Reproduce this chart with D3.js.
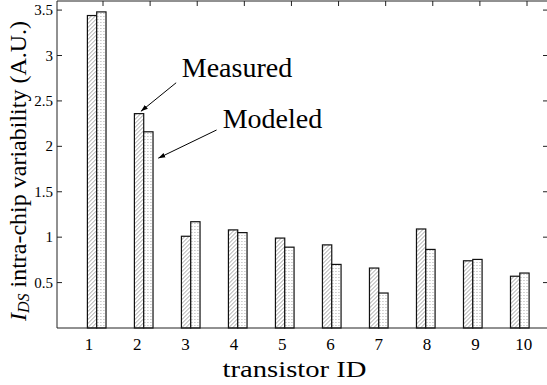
<!DOCTYPE html>
<html>
<head>
<meta charset="utf-8">
<script src="https://cdn.jsdelivr.net/npm/d3@7"></script>
<style>
  body { margin: 0; background: #fff; }
  text { font-family: "Liberation Serif", "Times New Roman", serif; fill: #000; }
</style>
</head>
<body>
<div id="container"></div>
<script>
// chart data
const ids = [1, 2, 3, 4, 5, 6, 7, 8, 9, 10];
const measured = [3.44, 2.36, 1.01, 1.08, 0.99, 0.915, 0.66, 1.09, 0.74, 0.57];
const modeled = [3.48, 2.16, 1.17, 1.05, 0.89, 0.70, 0.385, 0.865, 0.755, 0.605];
const yTicks = [0.5, 1, 1.5, 2, 2.5, 3, 3.5];
const seriesNames = ["Measured", "Modeled"];
// annotations in data units: text anchor and arrow (from -> to)
const notes = [
    {label: "Measured", tx: 2.81, ty: 2.765, x1: 2.69, y1: 2.70, x2: 1.94, y2: 2.385},
    {label: "Modeled", tx: 3.68, ty: 2.205, x1: 3.55, y1: 2.18, x2: 2.31, y2: 1.87}
];

const w = 547, h = 385;
const pLeft = 57, pTop = 1, pRight = 548, pBottom = 328;

const svg = d3.select("#container").append("svg")
    .attr("width", w).attr("height", h);

const defs = svg.append("defs");
const hatch = defs.append("pattern")
    .attr("id", "hatch").attr("patternUnits", "userSpaceOnUse")
    .attr("width", 4).attr("height", 4);
hatch.append("rect").attr("width", 4).attr("height", 4).attr("fill", "#fff");
hatch.append("path")
    .attr("d", "M-1,1 l2,-2 M0,4 l4,-4 M3,5 l2,-2")
    .attr("stroke", "#888").attr("stroke-width", 0.8);

const dots = defs.append("pattern")
    .attr("id", "dots").attr("patternUnits", "userSpaceOnUse")
    .attr("width", 3).attr("height", 3);
dots.append("rect").attr("width", 3).attr("height", 3).attr("fill", "#fff");
dots.append("rect").attr("x", 1).attr("y", 1).attr("width", 1).attr("height", 1).attr("fill", "#aaa");

const yScale = d3.scaleLinear().domain([0, 3.6]).range([pBottom, pTop]);

const xBand = d3.scaleBand()
    .domain(ids)
    .range([73.2, 543.3])
    .paddingInner(0.604)
    .paddingOuter(0.302);

const xSub = d3.scaleBand()
    .domain(seriesNames)
    .range([0, xBand.bandwidth()]);

// centre of each group, used for annotations
const xc = d3.scaleLinear()
    .domain([1, 10])
    .range([xBand(1) + xBand.bandwidth() / 2, xBand(10) + xBand.bandwidth() / 2]);

// tick label and top tick scales (offset from bars in the original)
const xLabel = d3.scaleLinear().domain([1, 10]).range([89, 523.7]);
const xTop = d3.scaleLinear().domain([1, 10]).range([103, 527]);

const rows = ids.map((id, i) => ({id: id, values: [measured[i], modeled[i]]}));

const groups = svg.append("g").selectAll("g")
    .data(rows)
    .enter()
    .append("g")
    .attr("transform", (d) => "translate(" + xBand(d.id) + ",0)");

groups.selectAll("rect")
    .data((d) => d.values.map((v, j) => ({name: seriesNames[j], value: v})))
    .enter()
    .append("rect")
    .attr("x", (d) => xSub(d.name))
    .attr("y", (d) => yScale(d.value))
    .attr("width", xSub.bandwidth())
    .attr("height", (d) => yScale(0) - yScale(d.value))
    .attr("fill", (d) => d.name == "Measured" ? "url(#hatch)" : "url(#dots)")
    .attr("stroke", "#111")
    .attr("stroke-width", 1.2);

// frame
svg.append("path")
    .attr("d", "M" + pLeft + "," + pBottom + "V" + pTop + "H" + pRight + "V" + pBottom + "Z")
    .attr("fill", "none").attr("stroke", "#222").attr("stroke-width", 1);

// y ticks (left, inward) + labels
const yAxis = svg.append("g");
yAxis.selectAll("line.l")
    .data(yTicks).enter().append("line")
    .attr("class", "l")
    .attr("x1", pLeft).attr("x2", pLeft + 5)
    .attr("y1", (d) => yScale(d)).attr("y2", (d) => yScale(d))
    .attr("stroke", "#222");
yAxis.selectAll("line.r")
    .data(yTicks).enter().append("line")
    .attr("class", "r")
    .attr("x1", pRight - 5).attr("x2", pRight)
    .attr("y1", (d) => yScale(d)).attr("y2", (d) => yScale(d))
    .attr("stroke", "#222");
yAxis.selectAll("text")
    .data(yTicks).enter().append("text")
    .attr("x", pLeft - 4)
    .attr("y", (d) => yScale(d) + 5)
    .attr("text-anchor", "end")
    .style("font-size", "15px")
    .text((d) => d);

// top ticks
svg.append("g").selectAll("line")
    .data(ids).enter().append("line")
    .attr("x1", (d) => xTop(d)).attr("x2", (d) => xTop(d))
    .attr("y1", pTop).attr("y2", pTop + 5)
    .attr("stroke", "#222");

// x tick labels
svg.append("g").selectAll("text")
    .data(ids).enter().append("text")
    .attr("x", (d) => xLabel(d))
    .attr("y", 350)
    .attr("text-anchor", "middle")
    .style("font-size", "17px")
    .text((d) => d);

// axis titles
svg.append("text")
    .attr("x", 222.5).attr("y", 376.5)
    .attr("textLength", 144)
    .attr("lengthAdjust", "spacingAndGlyphs")
    .style("font-size", "24px")
    .text("transistor ID");

const yTitle = svg.append("text")
    .attr("transform", "translate(26," + 171 + ") rotate(-90)")
    .attr("text-anchor", "middle")
    .style("font-size", "24px");
yTitle.append("tspan").style("font-style", "italic").text("I");
yTitle.append("tspan").style("font-style", "italic").style("font-size", "16px")
    .attr("dy", 3).text("DS");
yTitle.append("tspan").attr("dy", -3).text(" intra-chip variability (A.U.)");

// annotations
defs.append("marker")
    .attr("id", "arrow").attr("viewBox", "0 0 10 10")
    .attr("refX", 10).attr("refY", 5)
    .attr("markerWidth", 7).attr("markerHeight", 7)
    .attr("markerUnits", "userSpaceOnUse")
    .attr("orient", "auto")
    .append("path").attr("d", "M0,1.5 L10,5 L0,8.5 Z").attr("fill", "#000");

const ann = svg.append("g").selectAll("g")
    .data(notes).enter().append("g");
ann.append("line")
    .attr("x1", (d) => xc(d.x1)).attr("y1", (d) => yScale(d.y1))
    .attr("x2", (d) => xc(d.x2)).attr("y2", (d) => yScale(d.y2))
    .attr("stroke", "#000").attr("stroke-width", 1)
    .attr("marker-end", "url(#arrow)");
ann.append("text")
    .attr("x", (d) => xc(d.tx)).attr("y", (d) => yScale(d.ty))
    .style("font-size", "28px")
    .text((d) => d.label);
</script>
</body>
</html>
